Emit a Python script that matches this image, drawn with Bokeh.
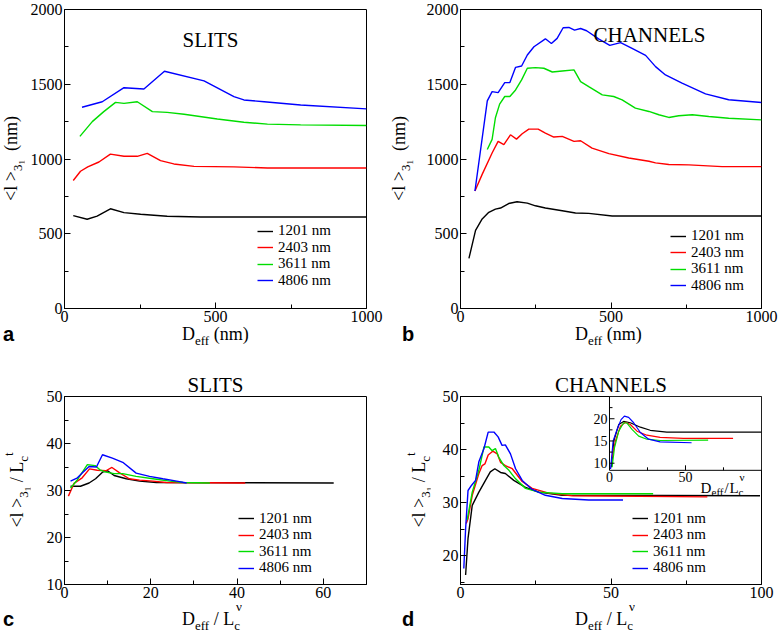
import math
from bokeh.plotting import figure
from bokeh.models import Range1d, FixedTicker, Label, Legend, LegendItem, Div, Title
from bokeh.layouts import row, column
from bokeh.core.properties import value
from bokeh.embed import file_html
from bokeh.resources import INLINE

# ---------------- data ----------------
SERIES = ["1201 nm", "2403 nm", "3611 nm", "4806 nm"]
COLORS = ["#000000", "#ff0000", "#00dd00", "#0000ff"]
TITLE_SLITS = "SLITS"
TITLE_CHANNELS = "CHANNELS"
PANEL_LETTERS = ["a", "b", "c", "d"]

# (a) SLITS, <l> (nm) vs D_eff (nm)
a_x_1201 = [29, 75, 108, 152, 197, 252, 340, 451, 1000]
a_y_1201 = [621, 597, 618, 667, 641, 630, 617, 612, 612]
a_x_2403 = [29, 53, 77, 114, 152, 197, 241, 274, 318, 362, 429, 561, 672, 1000]
a_y_2403 = [856, 918, 947, 980, 1033, 1018, 1018, 1038, 989, 967, 951, 947, 940, 940]
a_x_3611 = [51, 92, 130, 169, 197, 241, 291, 340, 396, 506, 594, 672, 782, 1000]
a_y_3611 = [1151, 1250, 1317, 1379, 1372, 1383, 1317, 1312, 1299, 1268, 1246, 1233, 1228, 1224]
a_x_4806 = [58, 125, 197, 263, 331, 462, 561, 594, 661, 782, 1000]
a_y_4806 = [1346, 1383, 1477, 1468, 1587, 1523, 1417, 1395, 1383, 1361, 1335]

# (b) CHANNELS, <l> (nm) vs D_eff (nm)
b_x_1201 = [28, 50, 72, 94, 116, 133, 160, 188, 222, 249, 282, 338, 382, 426, 504, 1000]
b_y_1201 = [335, 522, 599, 643, 665, 672, 702, 714, 705, 687, 672, 654, 639, 636, 619, 619]
b_x_2403 = [48, 72, 105, 125, 144, 166, 186, 205, 227, 258, 282, 310, 338, 377, 399, 437,
            493, 559, 626, 648, 692, 759, 869, 1000]
b_y_2403 = [786, 897, 1040, 1118, 1096, 1162, 1133, 1169, 1200, 1200, 1173, 1147, 1151, 1118,
            1122, 1073, 1036, 1007, 985, 974, 963, 961, 949, 949]
b_x_3611 = [89, 105, 116, 130, 147, 164, 183, 203, 222, 249, 277, 305, 338, 377, 399, 426, 471,
            509, 537, 581, 626, 659, 692, 725, 770, 825, 891, 1000]
b_y_3611 = [1064, 1131, 1276, 1367, 1418, 1418, 1462, 1529, 1607, 1611, 1607, 1582, 1589, 1596,
            1518, 1484, 1429, 1418, 1396, 1340, 1318, 1296, 1278, 1289, 1296, 1284, 1273, 1262]
b_x_4806 = [48, 89, 105, 125, 147, 164, 183, 203, 222, 244, 282, 302, 321, 341, 360, 379, 399,
            419, 460, 496, 532, 570, 615, 648, 681, 736, 814, 891, 1000]
b_y_4806 = [786, 1389, 1451, 1444, 1511, 1511, 1613, 1622, 1696, 1751, 1804, 1773, 1807, 1878,
            1880, 1862, 1873, 1858, 1802, 1760, 1778, 1740, 1693, 1618, 1562, 1507, 1436, 1396, 1378]

# (c) SLITS, <l>/Lc^t vs D_eff/Lc^nu
c_x_1201 = [1.4, 3.7, 5.7, 7.2, 8.8, 10.0, 11.5, 14.3, 17.4, 21.3, 62.4]
c_y_1201 = [30.9, 30.9, 31.6, 32.5, 33.9, 34.2, 33.2, 32.5, 32.0, 31.7, 31.6]
c_x_2403 = [0.9, 2.2, 4.1, 5.8, 7.6, 9.6, 11.0, 12.7, 15.0, 17.4, 20.5, 23.6, 41.9]
c_y_2403 = [28.8, 31.5, 32.7, 34.6, 34.3, 34.2, 34.9, 33.8, 32.5, 32.2, 32.0, 31.7, 31.6]
c_x_3611 = [1.4, 3.0, 5.3, 7.1, 8.2, 9.6, 11.5, 13.5, 16.6, 20.5, 24.4, 27.5, 33.7]
c_y_3611 = [30.5, 32.3, 35.5, 35.3, 34.4, 33.9, 33.6, 33.6, 33.0, 32.5, 32.0, 31.7, 31.6]
c_x_4806 = [1.4, 3.0, 4.1, 5.7, 7.4, 8.8, 11.1, 13.5, 16.6, 19.7, 22.8, 26.0, 28.3]
c_y_4806 = [32.0, 32.7, 33.7, 35.1, 35.0, 37.6, 36.9, 36.0, 33.7, 33.0, 32.5, 32.0, 31.6]

# (d) CHANNELS, <l>/Lc^t vs D_eff/Lc^nu
d_x_1201 = [1.7, 2.5, 3.9, 6.1, 8.3, 9.9, 11.4, 13.3, 14.9, 17.7, 21.6, 26.0, 33.8, 99.5]
d_y_1201 = [16.4, 23.3, 29.5, 32.0, 34.2, 35.8, 36.4, 35.7, 35.5, 34.2, 32.9, 32.0, 31.4, 31.3]
d_x_2403 = [1.9, 2.5, 3.9, 6.1, 7.2, 8.1, 9.2, 10.7, 12.2, 13.3, 14.9, 17.2, 20.5, 23.8, 29.3, 37.1, 82]
d_y_2403 = [26.1, 27.0, 31.4, 35.5, 37.0, 37.3, 39.0, 39.7, 39.2, 37.6, 37.0, 36.4, 34.0, 32.7,
            31.8, 31.3, 31.1]
d_x_3611 = [2.2, 3.9, 6.1, 7.8, 9.4, 10.5, 11.6, 12.7, 14.4, 16.1, 18.3, 21.6, 26.0, 33.8, 64]
d_y_3611 = [26.7, 32.0, 36.1, 40.5, 40.5, 39.8, 40.2, 38.6, 37.0, 36.1, 34.5, 32.7, 32.0, 31.7, 31.7]
d_x_4806 = [1.1, 1.7, 2.5, 3.7, 5.0, 6.1, 7.8, 9.2, 11.1, 12.5, 13.8, 14.9, 16.6, 18.3, 20.5,
            23.8, 28.2, 33.8, 42.6, 54]
d_y_4806 = [17.6, 25.1, 32.3, 33.3, 34.2, 37.7, 40.2, 43.3, 43.3, 42.4, 40.8, 40.9, 39.2, 36.4,
            34.2, 32.5, 31.4, 30.8, 30.5, 30.5]

# (d) inset
i_x_1201 = [1.3, 2.8, 6.1, 9.3, 13.7, 20.3, 26.8, 37.7, 100]
i_y_1201 = [9.1, 15.0, 18.7, 19.4, 19.1, 18.1, 17.4, 17.0, 17.0]
i_x_2403 = [1.7, 3.9, 7.2, 10.5, 13.7, 18.1, 24.6, 33.3, 48.6, 81.3]
i_y_2403 = [11.3, 15.0, 18.3, 19.2, 18.7, 17.2, 16.3, 15.8, 15.6, 15.6]
i_x_3611 = [1.7, 3.3, 6.1, 9.3, 11.5, 14.8, 19.2, 24.6, 33.3, 64.9]
i_y_3611 = [9.1, 13.5, 17.2, 19.1, 19.0, 17.6, 16.1, 15.4, 15.1, 15.2]
i_x_4806 = [0.7, 2.4, 5.0, 7.6, 9.8, 12.6, 15.9, 20.3, 25.7, 33.3, 54]
i_y_4806 = [8.7, 15.0, 17.6, 19.8, 20.6, 20.3, 19.1, 16.9, 15.4, 14.8, 14.6]

# axis ranges and ticks
AB_X_RANGE = (0, 1000); AB_X_TICKS = [0, 500, 1000]; AB_X_MINOR = [250, 750]
AB_Y_RANGE = (0, 2000); AB_Y_TICKS = [0, 500, 1000, 1500, 2000]; AB_Y_MINOR = [250, 750, 1250, 1750]
C_X_RANGE = (0, 70); C_X_TICKS = [0, 20, 40, 60]; C_X_MINOR = [10, 30, 50, 70]
C_Y_RANGE = (10, 50); C_Y_TICKS = [10, 20, 30, 40, 50]; C_Y_MINOR = [15, 25, 35, 45]
D_X_RANGE = (0, 100); D_X_TICKS = [0, 50, 100]; D_X_MINOR = [25, 75]
D_Y_RANGE = (14.6, 50); D_Y_TICKS = [20, 30, 40, 50]; D_Y_MINOR = [15, 25, 35, 45]
I_X_RANGE = (0, 100); I_X_TICKS = [0, 50]; I_X_MINOR = [25, 75]
I_Y_RANGE = (8.4, 25); I_Y_TICKS = [10, 15, 20]; I_Y_MINOR = [12.5, 17.5, 22.5]
I_X_LABELS = ["0", "50"]; I_Y_LABELS = ["10", "15", "20"]
INSET_TARGET_X = (49.5, 100); INSET_TARGET_Y = (36.1, 50)

# ---------------- helpers ----------------
SERIF = "Liberation Serif"
SANS = "Liberation Sans"


def sub(t, size=13, dy=5):
    return f'<span style="font-size:{size}px;position:relative;top:{dy}px">{t}</span>'


def sup(t, size=13, dy=10, ml=0):
    return f'<span style="font-size:{size}px;position:relative;top:{-dy}px;margin-left:{ml}px">{t}</span>'


XLAB_NM = "D" + sub("eff") + " (nm)"
XLAB_RED = "D" + sub("eff") + " / L" + sub("c") + sup("ν", 13, 14, -4)
YLAB_NM = "&lt;l &gt;" + sub("3" + sub("1", 9, 3)) + "&nbsp; (nm)"
YLAB_RED = "&lt;l &gt;" + sub("3" + sub("1", 9, 3)) + " / L" + sub("c") + sup("t", 13, 10)


def hdiv(html, w, h, pad_left=0, pad_top=0, font=SERIF, size=18, bold=False):
    weight = "bold" if bold else "normal"
    inner = (f'<div style="padding-left:{pad_left}px;padding-top:{pad_top}px;white-space:nowrap;'
             f"line-height:18px;color:black;font-family:'{font}';font-size:{size}px;"
             f'font-weight:{weight};">{html}</div>')
    return Div(text=inner, width=w, height=h, margin=(0, 0, 0, 0))


def vdiv(html, w, h, span, bottom, tx):
    inner = (f'<div style="width:{span}px;height:20px;line-height:20px;text-align:center;'
             f'white-space:nowrap;transform-origin:0 0;'
             f'transform:translate({tx}px,{bottom}px) rotate(-90deg);'
             f"font-family:'{SERIF}';font-size:18px;color:black;\">{html}</div>")
    return Div(text=inner, width=w, height=h, margin=(0, 0, 0, 0))


def make_fig(w, h, bl, br, bt, bb, xr, yr, xt, xm, yt, ym, title=None):
    p = figure(width=w, height=h, x_range=Range1d(*xr), y_range=Range1d(*yr),
               output_backend="svg", toolbar_location=None, tools="", title=title,
               min_border_left=bl, min_border_right=br, min_border_top=bt, min_border_bottom=bb,
               margin=(0, 0, 0, 0))
    p.grid.visible = False
    p.outline_line_color = "black"
    p.outline_line_alpha = 1
    p.outline_line_width = 1
    p.background_fill_color = "white"
    p.border_fill_color = "white"
    for ax, t, m in ((p.xaxis[0], xt, xm), (p.yaxis[0], yt, ym)):
        ax.ticker = FixedTicker(ticks=t, minor_ticks=m)
        ax.major_tick_in = 6
        ax.major_tick_out = 0
        ax.minor_tick_in = 4
        ax.minor_tick_out = 0
        ax.axis_line_color = "black"
        ax.major_tick_line_color = "black"
        ax.minor_tick_line_color = "black"
        ax.major_label_text_font = SERIF
        ax.major_label_text_font_size = "16px"
        ax.major_label_text_color = "black"
        ax.major_label_standoff = 2
    return p


def add_lines(p, xs, ys, lw=1.4):
    return [p.line(x, y, line_color=c, line_width=lw) for x, y, c in zip(xs, ys, COLORS)]


def add_legend(p, rends, x, y_mid, pitch=16.5):
    # one single-item legend per row so the row pitch matches the reference
    offs = [1.5, 0.5, -0.5, -1.5]
    for s, r, o in zip(SERIES, rends, offs):
        lg = Legend(items=[LegendItem(label=s, renderers=[r])], location=(x, y_mid + o * pitch),
                    border_line_color=None, background_fill_alpha=0,
                    padding=0, margin=0, spacing=0, glyph_width=16, glyph_height=14, label_height=14,
                    label_standoff=5, label_text_font=SERIF, label_text_font_size="15px",
                    label_text_color="black")
        p.add_layout(lg)


def inner_title(p, text, x, y):
    p.add_layout(Label(x=x, y=y, x_units="screen", y_units="screen", text=text,
                       text_font=SERIF, text_font_size="21px", text_color="black",
                       text_align="center", text_baseline="alphabetic"))


def top_title(text):
    return Title(text=text, align="center", text_font=SERIF, text_font_size="21px",
                 text_font_style="normal", text_color="black", standoff=0)


# ---------------- panel a ----------------
pa = make_fig(360, 325, 40, 18, 9, 17, AB_X_RANGE, AB_Y_RANGE, AB_X_TICKS, AB_X_MINOR, AB_Y_TICKS, AB_Y_MINOR)
ra = add_lines(pa, [a_x_1201, a_x_2403, a_x_3611, a_x_4806], [a_y_1201, a_y_2403, a_y_3611, a_y_4806])
add_legend(pa, ra, 193, 44)
inner_title(pa, TITLE_SLITS, 146, 269)

# ---------------- panel b ----------------
pb = make_fig(358, 325, 40, 17, 9, 17, AB_X_RANGE, AB_Y_RANGE, AB_X_TICKS, AB_X_MINOR, AB_Y_TICKS, AB_Y_MINOR)
rb = add_lines(pb, [b_x_1201, b_x_2403, b_x_3611, b_x_4806], [b_y_1201, b_y_2403, b_y_3611, b_y_4806])
add_legend(pb, rb, 210, 39)
inner_title(pb, TITLE_CHANNELS, 189, 274)

# ---------------- panel c ----------------
pc = make_fig(354, 245, 34, 18, 40, 17, C_X_RANGE, C_Y_RANGE, C_X_TICKS, C_X_MINOR, C_Y_TICKS, C_Y_MINOR,
              title=top_title(TITLE_SLITS))
rc = add_lines(pc, [c_x_1201, c_x_2403, c_x_3611, c_x_4806], [c_y_1201, c_y_2403, c_y_3611, c_y_4806])
add_legend(pc, rc, 174, 32.5)

# ---------------- panel d ----------------
pd_ = make_fig(348, 245, 30, 17, 40, 17, D_X_RANGE, D_Y_RANGE, D_X_TICKS, D_X_MINOR, D_Y_TICKS, D_Y_MINOR,
               title=top_title(TITLE_CHANNELS))
rd = add_lines(pd_, [d_x_1201, d_x_2403, d_x_3611, d_x_4806], [d_y_1201, d_y_2403, d_y_3611, d_y_4806])
add_legend(pd_, rd, 172, 32.5)

# inset of panel d
ins = pd_.subplot(x_source=Range1d(*I_X_RANGE), y_source=Range1d(*I_Y_RANGE),
                  x_target=Range1d(*INSET_TARGET_X), y_target=Range1d(*INSET_TARGET_Y))
ins.quad(left=[I_X_RANGE[0]], right=[I_X_RANGE[1]], bottom=[I_Y_RANGE[0]], top=[I_Y_RANGE[1]],
         fill_color="white", line_color="black", line_width=1)
for x, y, c in zip([i_x_1201, i_x_2403, i_x_3611, i_x_4806], [i_y_1201, i_y_2403, i_y_3611, i_y_4806], COLORS):
    ins.line(x, y, line_color=c, line_width=1.2)
ins.ray(x=[I_X_RANGE[0]] * len(I_Y_TICKS), y=I_Y_TICKS, length=5, angle=0, length_units="screen", line_color="black")
ins.ray(x=[I_X_RANGE[0]] * len(I_Y_MINOR), y=I_Y_MINOR, length=3, angle=0, length_units="screen", line_color="black")
ins.ray(x=I_X_TICKS[1:], y=[I_Y_RANGE[0]] * (len(I_X_TICKS) - 1), length=5, angle=math.pi / 2,
        length_units="screen", line_color="black")
ins.ray(x=I_X_MINOR, y=[I_Y_RANGE[0]] * len(I_X_MINOR), length=3, angle=math.pi / 2,
        length_units="screen", line_color="black")
ins.text(x=[I_X_RANGE[0]] * len(I_Y_TICKS), y=I_Y_TICKS, text=I_Y_LABELS, x_offset=-2,
         text_align="right", text_baseline="middle", text_font=value(SERIF), text_font_size="14px",
         text_color="black")
ins.text(x=I_X_TICKS, y=[I_Y_RANGE[0]] * len(I_X_TICKS), text=I_X_LABELS, y_offset=2,
         text_align="center", text_baseline="top", text_font=value(SERIF), text_font_size="14px",
         text_color="black")
INSET_XLAB = [("D", 15, 0, 0), ("eff", 11, 11, -4), ("/", 15, 24, 0), ("L", 15, 29, 0),
              ("c", 11, 38, -4), ("ν", 11, 39, 11)]
for t, s, dx, dy in INSET_XLAB:
    pd_.add_layout(Label(x=240 + dx, y=97 + dy, x_units="screen", y_units="screen", text=t,
                         text_font=SERIF, text_font_size=f"{s}px", text_color="black",
                         text_align="left", text_baseline="alphabetic"))

# ---------------- text divs ----------------
ya = vdiv(YLAB_NM, 24, 325, 299, 308, 1)
yb = vdiv(YLAB_NM, 36, 325, 299, 308, 5)
yc = vdiv(YLAB_RED, 30, 245, 188, 228, 7)
yd = vdiv(YLAB_RED, 46, 245, 188, 228, 25)

row_b = row(hdiv(PANEL_LETTERS[0], 182, 31, 3, 0, SANS, 20, True),
            hdiv(XLAB_NM, 216, 31),
            hdiv(PANEL_LETTERS[1], 177, 31, 4, 0, SANS, 20, True),
            hdiv(XLAB_NM, 203, 31))
row_d = row(hdiv(PANEL_LETTERS[2], 182, 32, 3, 9, SANS, 20, True),
            hdiv(XLAB_RED, 216, 32, 0, 9),
            hdiv(PANEL_LETTERS[3], 177, 32, 4, 9, SANS, 20, True),
            hdiv(XLAB_RED, 203, 32, 0, 9))

layout = column(row(ya, pa, yb, pb), row_b, row(yc, pc, yd, pd_), row_d)
open("out.html", "w").write(file_html(layout, INLINE))
